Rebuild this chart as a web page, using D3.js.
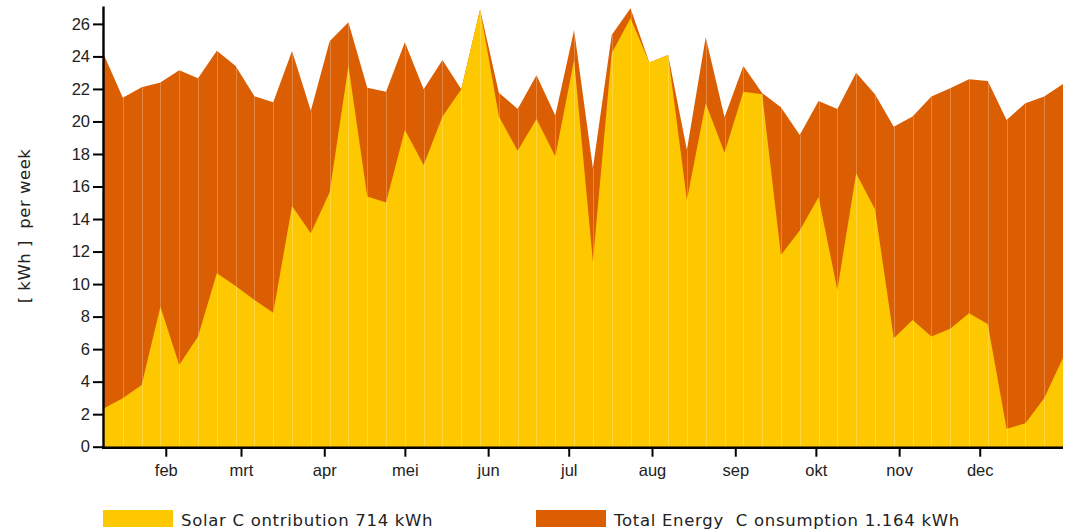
<!DOCTYPE html>
<html>
<head>
<meta charset="utf-8">
<script src="https://cdn.jsdelivr.net/npm/d3@7"></script>
<style>
  body { margin: 0; background: #fff; }
  svg { display: block; font-family: "DejaVu Sans", sans-serif; }
</style>
</head>
<body>
<script>
// weekly values, kWh per week
const solar = [
  2.36, 2.98, 3.79, 8.61, 5.02, 6.77, 10.66, 9.88, 9.02, 8.24, 14.8, 13.12, 15.65, 23.43,
  15.38, 15.01, 19.48, 17.33, 20.3, 21.98, 26.9, 20.3, 18.2, 20.15, 17.84, 23.78, 11.38,
  24.19, 26.35, 23.62, 24.09, 15.17, 21.12, 18.08, 21.83, 21.67, 11.79, 13.3, 15.34, 9.64,
  16.81, 14.6, 6.67, 7.79, 6.77, 7.26, 8.2, 7.55, 1.11, 1.44, 2.98, 5.47
];
const total = [
  24.09, 21.46, 22.1, 22.39, 23.15, 22.66, 24.35, 23.41, 21.55, 21.18, 24.34, 20.66, 24.93, 26.1,
  22.08, 21.83, 24.87, 21.98, 23.78, 21.98, 26.9, 21.77, 20.77, 22.84, 20.36, 25.63, 17.12,
  25.32, 26.96, 23.62, 24.09, 18.25, 25.18, 20.26, 23.41, 21.75, 20.87, 19.17, 21.26, 20.77,
  23.0, 21.67, 19.68, 20.3, 21.53, 22.04, 22.6, 22.49, 20.09, 21.12, 21.53, 22.31
];
const yTicks = [0, 2, 4, 6, 8, 10, 12, 14, 16, 18, 20, 22, 24, 26];
const monthLabels = ["feb", "mrt", "apr", "mei", "jun", "jul", "aug", "sep", "okt", "nov", "dec"];
const legendLabels = ["Solar C ontribution 714 kWh", "Total Energy  C onsumption 1.164 kWh"];

const kleur = { solar: "#fdc800", total: "#dc5e02" };

const width = 1066, height = 530;
const firstWeek = new Date(2015, 0, 9);
const dates = solar.map((_, i) => d3.timeDay.offset(firstWeek, i * 7));
const data = dates.map((d, i) => ({ date: d, solar: solar[i], total: total[i] }));

const x = d3.scaleTime().domain([dates[0], dates[dates.length - 1]]).range([104, 1063]);
const y = d3.scaleLinear().domain([0, 27.1]).range([446.7, 6]);

const svg = d3.select("body").append("svg")
  .attr("width", width)
  .attr("height", height)
  .attr("viewBox", [0, 0, width, height]);

// areas
svg.append("path")
  .datum(data)
  .attr("fill", kleur.total)
  .attr("d", d3.area().x(d => x(d.date)).y0(y(0)).y1(d => y(d.total)));

svg.append("path")
  .datum(data)
  .attr("fill", kleur.solar)
  .attr("d", d3.area().x(d => x(d.date)).y0(y(0)).y1(d => y(d.solar)));

// faint seams at every week
svg.append("g")
  .attr("stroke", "#fff")
  .attr("stroke-opacity", 0.25)
  .attr("stroke-width", 1)
  .selectAll("line")
  .data(data.slice(1, -1))
  .join("line")
  .attr("x1", d => Math.round(x(d.date)) + 0.5)
  .attr("x2", d => Math.round(x(d.date)) + 0.5)
  .attr("y1", y(0))
  .attr("y2", d => y(d.total));

// y axis
const yAxis = svg.append("g")
  .attr("transform", "translate(103,0)")
  .call(d3.axisLeft(y).tickValues(yTicks).tickSize(10).tickSizeOuter(0).tickPadding(3));
yAxis.select(".domain").attr("stroke", "#000").attr("stroke-width", 2.4);
yAxis.selectAll(".tick line").attr("stroke", "#000").attr("stroke-width", 2);
yAxis.selectAll(".tick text").attr("font-size", 16.5).attr("fill", "#222").attr("font-family", null);

// x axis
const monthDates = monthLabels.map((_, i) => new Date(2015, i + 1, 1));
const xAxis = svg.append("g")
  .attr("transform", `translate(0,${y(0) + 1})`)
  .call(d3.axisBottom(x).tickValues(monthDates).tickFormat((d, i) => monthLabels[i])
    .tickSize(9).tickSizeOuter(0).tickPadding(8));
xAxis.select(".domain").attr("stroke", "#000").attr("stroke-width", 2.4)
  .attr("d", `M102,0H1063`);
xAxis.selectAll(".tick line").attr("stroke", "#000").attr("stroke-width", 2);
xAxis.selectAll(".tick text").attr("font-size", 16.5).attr("fill", "#222").attr("font-family", null);

// y label
svg.append("text")
  .attr("transform", "translate(30,226) rotate(-90)")
  .attr("text-anchor", "middle")
  .attr("font-size", 16.5)
  .attr("letter-spacing", 0.5)
  .attr("fill", "#222")
  .attr("xml:space", "preserve")
  .text("[ kWh ]  per week");

// legend
const legend = svg.append("g")
  .selectAll("g")
  .data([{ label: legendLabels[0], color: kleur.solar, x: 103 }, { label: legendLabels[1], color: kleur.total, x: 536 }])
  .join("g")
  .attr("transform", d => `translate(${d.x},510)`);

legend.append("rect")
  .attr("width", 70)
  .attr("height", 17)
  .attr("fill", d => d.color);

legend.append("text")
  .attr("x", 78)
  .attr("y", 15.5)
  .attr("font-size", 16.5)
  .attr("letter-spacing", 0.7)
  .attr("fill", "#222")
  .attr("xml:space", "preserve")
  .text(d => d.label);
</script>
</body>
</html>
